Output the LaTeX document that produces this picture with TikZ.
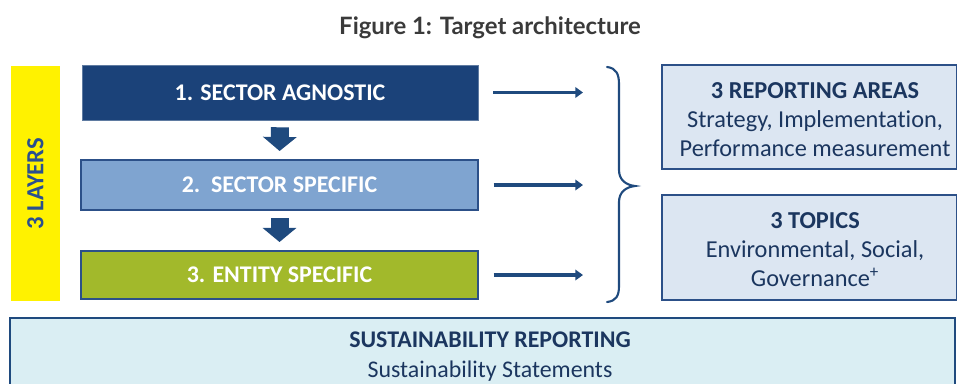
\documentclass[tikz,border=0pt]{standalone}
\usepackage{fontspec}
\setmainfont{Carlito}[Ligatures=NoCommon]
\newfontfamily\titlefont{Lato}
\usetikzlibrary{arrows.meta}
\definecolor{dblue}{HTML}{1B4279}
\definecolor{midblue}{HTML}{7FA4D0}
\definecolor{olive}{HTML}{A2B92B}
\definecolor{edgeblue}{HTML}{2C5088}
\definecolor{arrowblue}{HTML}{1F4A7E}
\definecolor{lightbox}{HTML}{DCE6F2}
\definecolor{lightcyan}{HTML}{DAEEF3}
\definecolor{textblue}{HTML}{1B365F}
\definecolor{layerblue}{HTML}{2A4F8F}
\definecolor{titlegray}{HTML}{3A3A3A}
\tikzset{
  layerbox/.style={rectangle, minimum width=9.9cm, inner sep=0pt, text=white,
     font=\fontsize{17}{20}\selectfont\bfseries},
  infobox/.style={rectangle, draw=edgeblue, line width=1.6pt, fill=lightbox,
     minimum width=7.375cm, inner sep=0pt},
  infotext/.style={text=textblue, align=center, inner sep=0pt,
     font=\fontsize{17.3}{20.6}\selectfont},
  downarrow/.style={draw=arrowblue, line width=12.8pt,
     -{Triangle[length=10pt,width=23.5pt]}, shorten <=0.175cm, shorten >=0.2cm},
  rightarrow/.style={draw=arrowblue, line width=2.7pt,
     -{Triangle[length=5.5pt,width=7.5pt]}, shorten <=0.375cm},
}
\begin{document}
\begin{tikzpicture}[x=0.025cm,y=-0.025cm]
\useasboundingbox (0,0) rectangle (957,383);
\clip (0,0) rectangle (957,383);

% title
\node[font=\titlefont\bfseries\fontsize{17}{19}\selectfont, text=titlegray] (title) at (490,28) {Figure 1: Target architecture};

% yellow side bar
\node[rectangle, fill=yellow, minimum width=1.225cm, minimum height=5.875cm, inner sep=0pt] (bar) at (35.5,183.5) {};
\node[rotate=90, text=layerblue, font=\fontsize{17.5}{20}\selectfont\bfseries] (layers) at (35.5,183.5) {3 LAYERS};

% three layer boxes
\node[layerbox, fill=dblue, draw=dblue!70!white, line width=0.4pt, minimum height=1.375cm] (b1) at (280,92.5) {1. SECTOR AGNOSTIC};
\node[layerbox, fill=midblue, draw=edgeblue, line width=1.4pt, minimum height=1.25cm] (b2) at (279.5,185) {2.\ \ SECTOR SPECIFIC};
\node[layerbox, fill=olive, draw=edgeblue, line width=1.4pt, minimum height=1.2cm] (b3) at (279.5,275) {3. ENTITY SPECIFIC};

% down arrows
\draw[downarrow] (b1.south) -- (b2.north);
\draw[downarrow] (b2.south) -- (b3.north);

% right arrows
\coordinate (r1) at (583,92.5);
\coordinate (r2) at (583,185);
\coordinate (r3) at (583,275);
\draw[rightarrow] (b1.east) -- (r1);
\draw[rightarrow] (b2.east) -- (r2);
\draw[rightarrow] (b3.east) -- (r3);

% brace
\coordinate (bt) at (607,67);
\coordinate (bb) at (607,302);
\coordinate (tip) at (635,186);
\draw[arrowblue, line width=1.5pt, line cap=round]
  (bt) .. controls (616,68) and (619,74) .. (619,84) -- (619,170)
  .. controls (619,180) and (626,185) .. (tip)
  .. controls (626,187) and (619,192) .. (619,202) -- (619,286)
  .. controls (619,296) and (616,301) .. (bb);

% info boxes
\node[infobox, minimum height=2.6cm] (areas) at (809.5,117) {};
\node[infotext] (areastxt) at (815,119.5)
  {\textbf{3 REPORTING AREAS}\\Strategy, Implementation,\\Performance measurement};
\node[infobox, minimum height=2.625cm] (topics) at (809.5,247.5) {};
\node[infotext] (topicstxt) at (815,249.5)
  {\textbf{3 TOPICS}\\Environmental, Social,\\Governance\textsuperscript{+}};

% bottom box
\node[rectangle, draw=arrowblue, line width=1.4pt, fill=lightcyan, minimum width=23.625cm, minimum height=2.05cm, inner sep=0pt] (bottom) at (482.5,359) {};
\node[text=textblue, align=center, font=\fontsize{17}{21.3}\selectfont] (bottomtxt) at (490,357)
  {\textbf{SUSTAINABILITY REPORTING}\\Sustainability Statements};
\end{tikzpicture}
\end{document}
